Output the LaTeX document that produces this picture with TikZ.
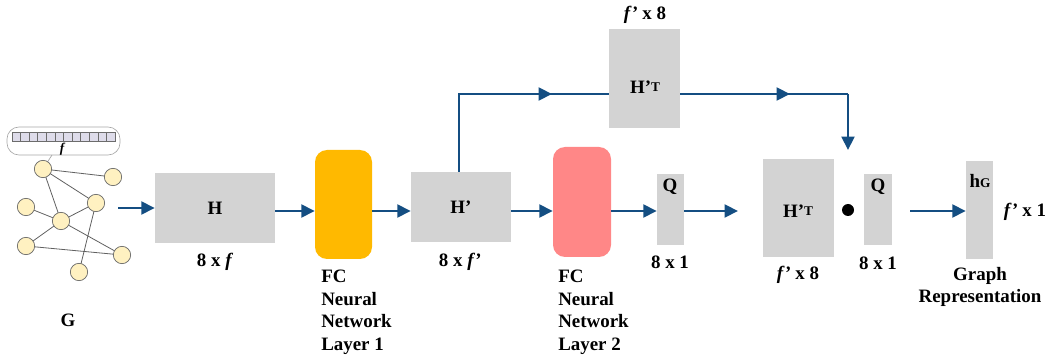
\documentclass[tikz,border=0pt]{standalone}
\usepackage{fontspec}
\setmainfont{Liberation Serif}
\usetikzlibrary{arrows.meta}
\pgfdeclarelayer{background}
\pgfsetlayers{background,main}
\definecolor{flowblue}{RGB}{20,78,130}
\definecolor{boxgray}{RGB}{211,211,211}
\definecolor{layerone}{RGB}{255,185,0}
\definecolor{layertwo}{RGB}{255,135,135}
\definecolor{vertfill}{RGB}{255,241,193}
\definecolor{cellfill}{RGB}{222,220,234}
\tikzset{
  flow/.style={draw=flowblue, line width=2.2pt, -{Triangle[length=10pt,width=9.5pt]}},
  plain/.style={draw=flowblue, line width=2.2pt},
  mat/.style={fill=boxgray, draw=none, inner sep=0pt},
  fclayer/.style={draw=none, rounded corners=9pt, inner sep=0pt},
  vert/.style={circle, fill=vertfill, draw=gray!80!black, line width=0.5pt, minimum size=13pt, inner sep=0pt},
  edge/.style={draw=gray!75!black, line width=0.6pt},
  lbl/.style={font=\bfseries\fontsize{14.2}{16.8}\selectfont, inner sep=0pt},
  stack/.style={lbl, align=left, anchor=north west}
}
\newcommand{\lowT}[1]{\raisebox{1.5pt}{\fontsize{10}{10}\selectfont #1}}
\begin{document}
\begin{tikzpicture}[x=0.75pt, y=-0.75pt]
  \useasboundingbox (0,0) rectangle (1047,356);
  % input graph G with its feature vector
  \draw[gray!70, line width=0.5pt, rounded corners=9pt] (7,127) rectangle (120,155);
  \foreach \i in {0,...,11}
    \draw[fill=cellfill, draw=gray!85!black, line width=0.4pt] (12+8.58*\i,132) rectangle (12+8.58*\i+8.58,141);
  \node[font=\itshape\bfseries\fontsize{10}{10}\selectfont, inner sep=0pt] (fvec) at (62,149) {f};
  \coordinate (ftail) at (52,155);
  \node[vert] (v1) at (43,169) {};
  \node[vert] (v2) at (113,177) {};
  \node[vert] (v3) at (96,203) {};
  \node[vert] (v4) at (26,207) {};
  \node[vert] (v5) at (61,221) {};
  \node[vert] (v6) at (26,246) {};
  \node[vert] (v7) at (122,255) {};
  \node[vert] (v8) at (79,272) {};
  \begin{pgfonlayer}{background}
    \draw[gray!70, line width=0.5pt] (ftail) -- (v1.center);
    \foreach \a/\b in {v1/v2, v1/v3, v1/v5, v4/v5, v5/v3, v5/v6, v5/v7, v6/v7, v3/v8}
      \draw[edge] (\a.center) -- (\b.center);
  \end{pgfonlayer}
  \node[lbl] (glab) at (68,320) {G};

  % matrices and layers
  \node[mat, minimum width=120pt*0.75, minimum height=70pt*0.75] (H) at (215,208) {};
  \node[lbl] at (H) {H};
  \node[lbl] (Hdim) at (215,262) {8 x \textit{f}};

  \node[fclayer, fill=layerone, minimum width=57pt*0.75, minimum height=109pt*0.75] (fc1) at (343.5,204.5) {};
  \node[stack] (fc1lab) at (321,270) {FC\\Neural\\Network\\Layer 1};

  \node[mat, minimum width=100pt*0.75, minimum height=70pt*0.75] (Hp) at (461,207) {};
  \node[lbl] at (Hp) {H’};
  \node[lbl] (Hpdim) at (460,262) {8 x \textit{f’}};

  \node[fclayer, fill=layertwo, minimum width=58pt*0.75, minimum height=110pt*0.75] (fc2) at (582,202) {};
  \node[stack] (fc2lab) at (558,270) {FC\\Neural\\Network\\Layer 2};

  \node[mat, minimum width=27pt*0.75, minimum height=71pt*0.75] (Q) at (670.5,209.5) {};
  \node[lbl] at (670,187) {Q};
  \node[lbl] (Qdim) at (670,262) {8 x 1};

  \node[mat, minimum width=71pt*0.75, minimum height=99pt*0.75] (HT) at (644.5,78.5) {};
  \node[lbl] at (645,87) {H’\lowT{T}};
  \node[lbl] (HTdim) at (645,15) {\textit{f’} x 8};

  \node[mat, minimum width=71pt*0.75, minimum height=98pt*0.75] (HT2) at (798.5,208) {};
  \node[lbl] at (798,211) {H’\lowT{T}};
  \node[lbl] (HT2dim) at (798,275) {\textit{f’} x 8};

  \node[circle, fill=black, minimum size=9pt, inner sep=0pt] (dot) at (848,210) {};

  \node[mat, minimum width=28pt*0.75, minimum height=71pt*0.75] (Q2) at (878,209.5) {};
  \node[lbl] at (878,187) {Q};
  \node[lbl] (Q2dim) at (878,263) {8 x 1};

  \node[mat, minimum width=27pt*0.75, minimum height=98pt*0.75] (hG) at (979.5,210) {};
  \node[lbl] at (980,181) {h{\fontsize{10}{10}\selectfont G}};
  \node[lbl] (hGdim) at (1025,212) {\textit{f’} x 1};
  \node[lbl, align=center, anchor=north] (hGlab) at (980,267) {Graph\\Representation};

  % connectors
  \coordinate (gout) at (118,208);
  \coordinate (Qend) at (738,211);
  \coordinate (dotin) at (910,211);
  \coordinate (up) at (459,94);
  \coordinate (mid1) at (552,94);
  \coordinate (mid2) at (790,94);
  \coordinate (corner) at (848,94);
  \coordinate (down) at (848,150);
  \draw[flow] (gout) -- (H.west);
  \draw[flow] (H.east |- 0,211) -- (fc1.west |- 0,211);
  \draw[flow] (fc1.east |- 0,211) -- (Hp.west |- 0,211);
  \draw[flow] (Hp.east |- 0,211) -- (fc2.west |- 0,211);
  \draw[flow] (fc2.east |- 0,211) -- (Q.west |- 0,211);
  \draw[flow] (Q.east |- 0,211) -- (Qend);
  \draw[flow] (dotin) -- (hG.west |- 0,211);
  \draw[plain] (Hp.north -| up) -- (up) -- (HT.west |- up);
  \draw[flow] (up) -- (mid1);
  \draw[plain] (HT.east |- corner) -- (corner);
  \draw[flow] (HT.east |- corner) -- (mid2);
  \draw[flow] (corner) -- (down);
\end{tikzpicture}
\end{document}
